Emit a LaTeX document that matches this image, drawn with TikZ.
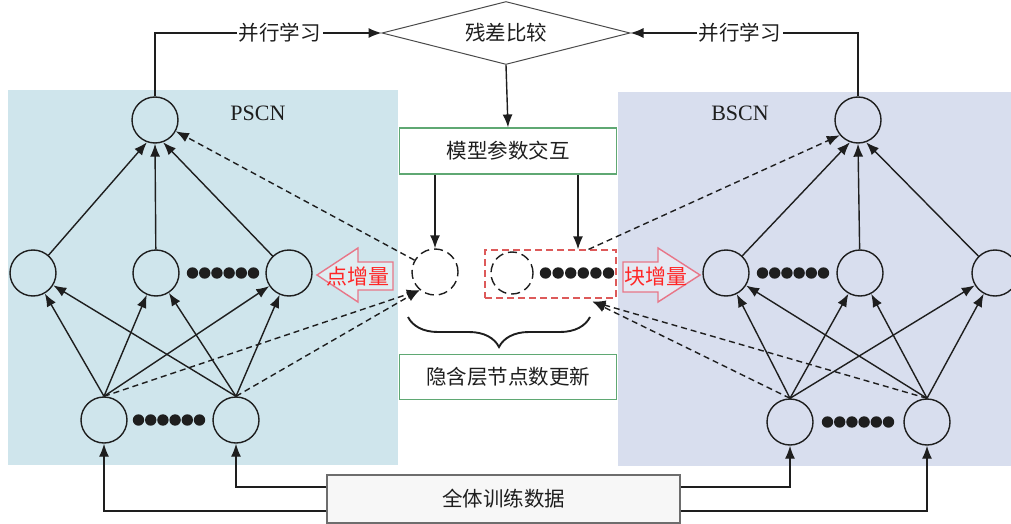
\documentclass[tikz,border=0pt]{standalone}
\usepackage{fontspec}
\setmainfont{Liberation Serif}
\newfontfamily\cjk{Noto Sans CJK SC}
\usetikzlibrary{shapes.geometric,arrows.meta,decorations.pathreplacing}
\definecolor{lpanel}{HTML}{CFE5EC}
\definecolor{rpanel}{HTML}{D8DEEE}
\definecolor{boxgreen}{HTML}{5FA873}
\definecolor{incred}{HTML}{E2546A}
\definecolor{rectred}{HTML}{DD5A5A}
\definecolor{ink}{HTML}{1E1E1E}
\tikzset{
  neuron/.style={circle,draw=ink,line width=1.4pt,minimum size=46pt,inner sep=0pt},
  dneuron/.style={neuron,dash pattern=on 9pt off 5pt},
  arr/.style={draw=ink,line width=1.4pt,-{Latex[length=13pt,width=10pt]}},
  darr/.style={arr,dash pattern=on 6pt off 4pt},
  cjklab/.style={font=\cjk\fontsize{20.5}{20.5}\selectfont,text=ink},
  greenbox/.style={cjklab,draw=boxgreen,line width=1.1pt,fill=white,minimum width=217pt,minimum height=46pt,inner sep=0pt},
  parrow/.style={draw=incred!80,line width=1.4pt,fill=white,fill opacity=0.35,line join=miter},
  inctext/.style={font=\cjk\fontsize{21}{21}\selectfont,text=red!85},
  netlab/.style={font=\fontsize{22}{22}\selectfont,text=ink},
}
\begin{document}
\begin{tikzpicture}[x=1pt,y=-1pt]
\useasboundingbox (0,0) rectangle (1011,524);
% panels
\fill[lpanel] (8,90) rectangle (398,465);
\fill[rpanel] (618,92) rectangle (1011,466);
\node[netlab] at (258,113) {PSCN};
\node[netlab] at (740,113) {BSCN};

% center nodes
\node[diamond,draw=ink!80,line width=1pt,fill=white,aspect=3.9,minimum width=248pt,minimum height=63pt,inner sep=0pt,cjklab] (dia) at (506,33) {残差比较};
\node[greenbox] (mx) at (508,151) {模型参数交互};
\node[greenbox,minimum height=45pt] (upd) at (508,377) {隐含层节点数更新};
\node[cjklab,draw=ink!65,line width=1.1pt,fill=gray!6,minimum width=353pt,minimum height=48pt] (data) at (503.5,499) {全体训练数据};

% left network
\node[neuron] (ltop) at (155,120) {};
\node[neuron] (lm1) at (33,273) {};
\node[neuron] (lm2) at (156,273) {};
\node[neuron] (lm3) at (289,273) {};
\node[neuron] (lb1) at (104,420) {};
\node[neuron] (lb2) at (236,420) {};
\foreach \i in {0,...,5} \fill[ink] ({192.5+\i*12.2},273) circle (5.7pt);
\foreach \i in {0,...,5} \fill[ink] ({138.5+\i*12.2},420) circle (5.7pt);

% right network
\node[neuron] (rtop) at (858,120) {};
\node[neuron] (rm1) at (726,273) {};
\node[neuron] (rm2) at (860,273) {};
\node[neuron] (rm3) at (995,273) {};
\node[neuron] (rb1) at (790,422) {};
\node[neuron] (rb2) at (927,422) {};
\foreach \i in {0,...,5} \fill[ink] ({762.5+\i*12.2},273) circle (5.7pt);
\foreach \i in {0,...,5} \fill[ink] ({827.5+\i*12.2},422) circle (5.7pt);

% increment elements
\node[dneuron] (pinc) at (435,272) {};
\node[draw=rectred,line width=1.2pt,dash pattern=on 7pt off 4pt,minimum width=131pt,minimum height=48pt,inner sep=0pt] (brect) at (550.5,274) {};
\node[dneuron,minimum size=42pt] (binc) at (512,273) {};
\foreach \i in {0,...,5} \fill[ink] ({545.5+\i*12.6},273) circle (5.7pt);

% block arrows
\draw[parrow] (317,275) -- (358,248) -- (358,262) -- (393,262) -- (393,290) -- (358,290) -- (358,302) -- cycle;
\node[inctext] at (358,276) {点增量};
\draw[parrow] (700,275) -- (658,248) -- (658,262) -- (623,262) -- (623,292) -- (658,292) -- (658,302) -- cycle;
\node[inctext] at (656,277) {块增量};

% brace
\draw[ink,line width=1.9pt,decorate,decoration={brace,mirror,amplitude=30pt}] (408,317) -- (590,317);

% left edges
\draw[arr] (lm1) -- (ltop.-110);
\draw[arr] (lm2) -- (ltop.south);
\draw[arr] (lm3) -- (ltop.-70);
\foreach \b in {lb1,lb2} \foreach \m in {lm1,lm2,lm3} \draw[arr] (\b.north) -- (\m);

% right edges
\draw[arr] (rm1) -- (rtop.-110);
\draw[arr] (rm2) -- (rtop.south);
\draw[arr] (rm3) -- (rtop.-70);
\foreach \b in {rb1,rb2} \foreach \m in {rm1,rm2,rm3} \draw[arr] (\b.north) -- (\m);

% parallel learning
\draw[arr] (ltop.north) |- node[pos=0.775,cjklab,fill=white,inner sep=2pt] {并行学习} (dia.west);
\draw[arr] (rtop.north) |- node[pos=0.76,cjklab,fill=white,inner sep=2pt] {并行学习} (dia.east);
\draw[arr] (dia.south) -- (mx.north);

% from parameter interaction
\draw[arr] (pinc.north |- mx.south) -- (pinc.north);
\coordinate (rt) at ([xshift=27.5pt]brect.north);
\draw[arr] (rt |- mx.south) -- (rt);

% dashed links
\draw[darr] (pinc.150) -- (ltop);
\draw[darr] (lb1.north) -- (pinc.-130);
\draw[darr] (lb2.north) -- (pinc.-130);
\coordinate (rs) at ([xshift=38pt]brect.north);
\draw[darr] (rs) -- (rtop.-140);
\coordinate (rp) at ([xshift=42pt,yshift=-3pt]brect.south);
\draw[darr] (rb1.north) -- (rp);
\draw[darr] (rb2.north) -- (rp);

% data connections
\draw[arr] ([yshift=12pt]data.west) -| (lb2.south);
\draw[arr] ([yshift=-12pt]data.west) -| (lb1.south);
\draw[arr] ([yshift=12pt]data.east) -| (rb1.south);
\draw[arr] ([yshift=-12pt]data.east) -| (rb2.south);
\end{tikzpicture}
\end{document}
